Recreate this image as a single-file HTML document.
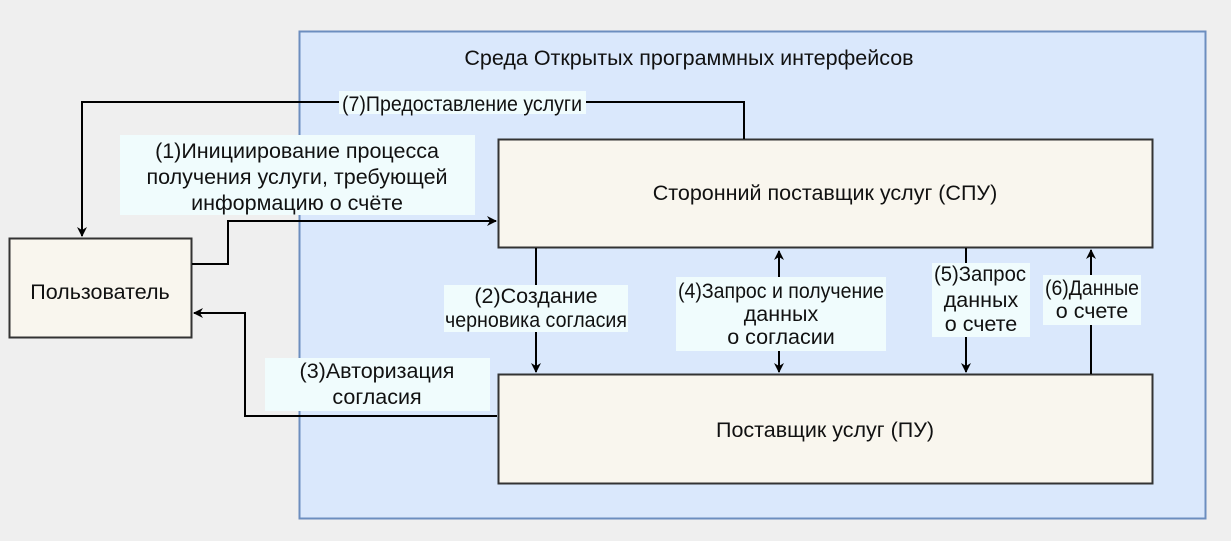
<!DOCTYPE html>
<html><head><meta charset="utf-8"><style>
html,body{margin:0;padding:0;background:#efefef;}
svg{display:block;font-family:"Liberation Sans",Arial,sans-serif;}
text{font-size:21.5px;fill:#111;}
</style></head><body>
<svg width="1231" height="541" viewBox="0 0 1231 541" xmlns="http://www.w3.org/2000/svg">
<defs><marker id="a" markerWidth="10" markerHeight="10" refX="9" refY="5" orient="auto" markerUnits="userSpaceOnUse"><path d="M0,0 L10,5 L0,10 L3,5 Z" fill="#000"/></marker></defs>
<rect x="0" y="0" width="1231" height="541" fill="#efefef"/>
<rect x="299.5" y="31.5" width="906" height="487" fill="#dae8fc" stroke="#6c8ebf" stroke-width="2"/>
<text x="689" y="65" text-anchor="middle">Среда Открытых программных интерфейсов</text>
<rect x="9.5" y="238.5" width="182" height="99" fill="#f9f6ee" stroke="#333" stroke-width="2"/>
<text x="100" y="299" text-anchor="middle">Пользователь</text>
<rect x="498.5" y="139.5" width="654" height="108" fill="#f9f6ee" stroke="#333" stroke-width="2"/>
<text x="825" y="200" text-anchor="middle">Сторонний поставщик услуг (СПУ)</text>
<rect x="498.5" y="374.5" width="654" height="109" fill="#f9f6ee" stroke="#333" stroke-width="2"/>
<text x="825" y="437" text-anchor="middle">Поставщик услуг (ПУ)</text>
<g fill="none" stroke="#000" stroke-width="2">
<path d="M744,139 V102 H82 V236" marker-end="url(#a)"/>
<path d="M192,264 H228 V221 H496" marker-end="url(#a)"/>
<path d="M497,416 H245 V313 H194" marker-end="url(#a)"/>
<path d="M536,248 V372" marker-end="url(#a)"/>
<path d="M779,277 V251" marker-end="url(#a)"/>
<path d="M779,351 V372" marker-end="url(#a)"/>
<path d="M966,248 V372" marker-end="url(#a)"/>
<path d="M1091,374 V250" marker-end="url(#a)"/>
</g>
<g fill="#f0fcfd">
<rect x="339" y="91" width="247" height="23"/>
<rect x="120" y="135" width="355" height="80"/>
<rect x="265" y="358" width="225" height="53"/>
<rect x="444" y="285" width="184" height="47"/>
<rect x="676" y="277" width="210" height="74"/>
<rect x="932" y="263" width="98" height="74"/>
<rect x="1043" y="275" width="98" height="50"/>
</g>
<g text-anchor="middle">
<text x="462" y="111" textLength="240" lengthAdjust="spacingAndGlyphs">(7)Предоставление услуги</text>
<text x="297" y="158">(1)Инициирование процесса</text>
<text x="297" y="184">получения услуги, требующей</text>
<text x="297" y="210">информацию о счёте</text>
<text x="377" y="378">(3)Авторизация</text>
<text x="377" y="404">согласия</text>
<text x="536" y="303">(2)Создание</text>
<text x="536" y="327" textLength="182" lengthAdjust="spacingAndGlyphs">черновика согласия</text>
<text x="781" y="298" textLength="206" lengthAdjust="spacingAndGlyphs">(4)Запрос и получение</text>
<text x="781" y="321">данных</text>
<text x="781" y="344">о согласии</text>
<text x="980" y="281" textLength="92" lengthAdjust="spacingAndGlyphs">(5)Запрос</text>
<text x="981" y="307">данных</text>
<text x="981" y="331">о счете</text>
<text x="1092" y="295" textLength="94" lengthAdjust="spacingAndGlyphs">(6)Данные</text>
<text x="1092" y="318">о счете</text>
</g>
</svg>
</body></html>
